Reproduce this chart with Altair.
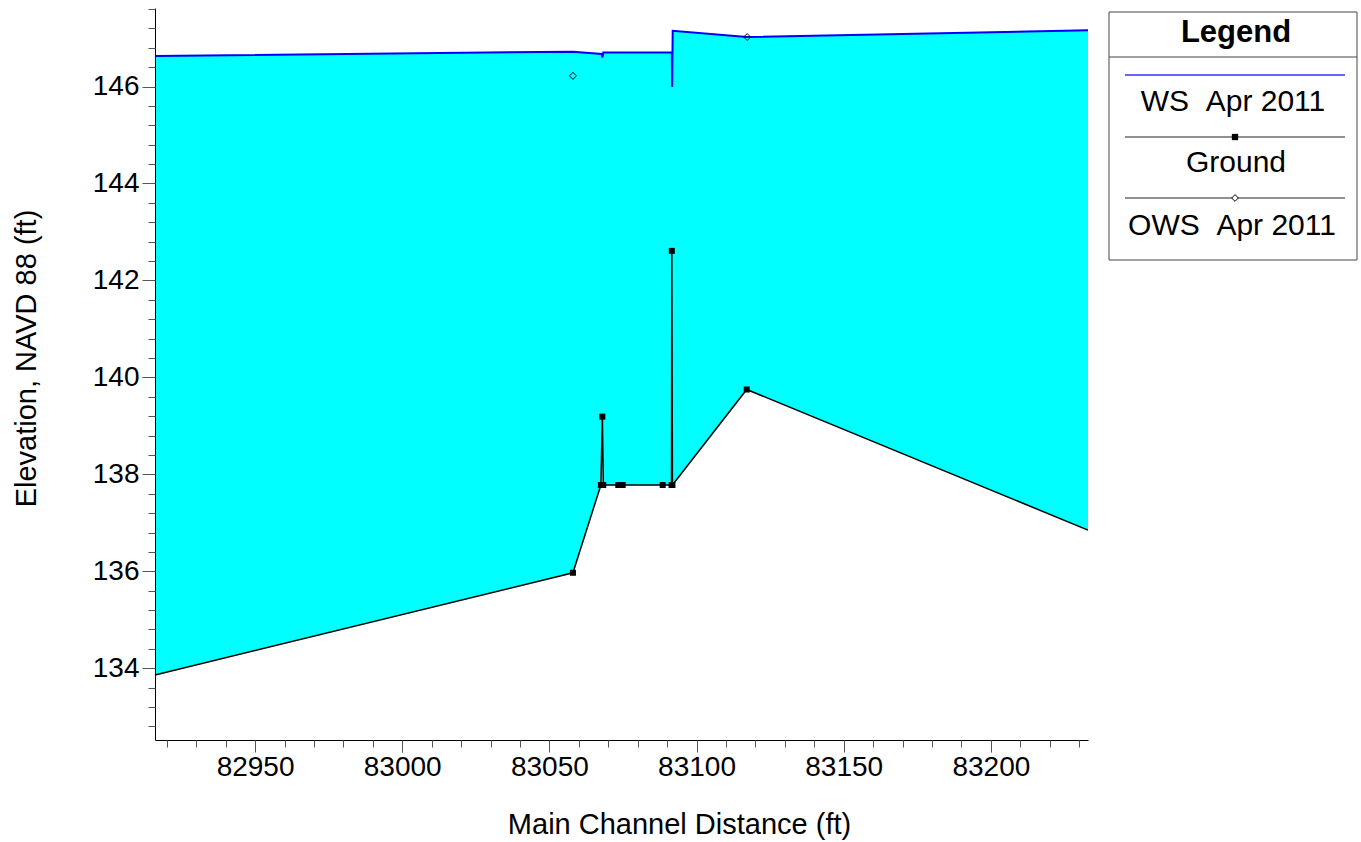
import altair as alt
import numpy as np
import pandas as pd

# Ground profile along the main channel (station ft, elevation ft)
ground_x = [82916.0, 83058.0, 83067.5, 83068.0, 83068.3, 83073.4, 83074.9,
            83088.5, 83091.5, 83091.6, 83091.8, 83117.05, 83233.0]
ground_y = [133.86, 135.97, 137.78, 139.19, 137.78, 137.78, 137.78,
            137.78, 137.78, 142.61, 137.78, 139.75, 136.85]

# Computed water surface, April 2011
ws_x = [82916.0, 83058.0, 83067.8, 83068.0, 83068.3, 83091.6, 83091.7,
        83091.9, 83117.05, 83233.0]
ws_y = [146.63, 146.72, 146.67, 146.60, 146.70, 146.70, 145.99,
        147.15, 147.02, 147.16]

# Observed water surface, April 2011
ows_x = [83058.0, 83117.2]
ows_y = [146.22, 147.02]

# Axis ticks
x_domain = [82916, 83233]
y_domain = [132.52, 147.62]
x_major = [82950, 83000, 83050, 83100, 83150, 83200]
x_minor = list(range(82920, 83240, 10))
y_major = [134, 136, 138, 140, 142, 144, 146]
y_minor = [round(v, 1) for v in np.arange(132.8, 147.7, 0.4)]

legend_labels = ["WS\u00a0\u00a0Apr 2011", "Ground", "OWS\u00a0\u00a0Apr 2011"]

FONT = "Liberation Sans"
W, H = 933, 732

ground = pd.DataFrame({"x": ground_x, "y": ground_y, "i": range(len(ground_x))})
ws = pd.DataFrame({"x": ws_x, "y": ws_y, "i": range(len(ws_x))})
ows = pd.DataFrame({"x": ows_x, "y": ows_y})

xs = alt.Scale(domain=x_domain, nice=False, zero=False)
ys = alt.Scale(domain=y_domain, nice=False, zero=False)

axis_common = dict(grid=False, zindex=1, tickColor="#555555", tickWidth=1,
                   domainColor="black", domainWidth=1, labelFont=FONT,
                   labelColor="black", labelFontSize=28, titleFont=FONT,
                   titleColor="black", titleFontSize=29,
                   titleFontWeight="normal", labelOverlap=False,
                   labelFlush=False, labelBound=False)

x_major_axis = alt.Axis(orient="bottom", values=x_major, format="d",
                        tickSize=12, labelPadding=1,
                        title="Main Channel Distance (ft)", titleX=524,
                        titleY=93, titleBaseline="alphabetic",
                        titleAlign="center", **axis_common)
y_major_axis = alt.Axis(orient="left", values=y_major, format="d",
                        tickSize=13, labelPadding=3,
                        title="Elevation, NAVD 88 (ft)", titleX=-120,
                        titleY=350, titleAngle=270,
                        titleBaseline="alphabetic", titleAlign="center",
                        **axis_common)
x_minor_axis = alt.Axis(orient="bottom", values=x_minor, labels=False,
                        domain=False, tickSize=7, title=None, grid=False,
                        tickColor="#555555", zindex=1)
y_minor_axis = alt.Axis(orient="left", values=y_minor, labels=False,
                        domain=False, tickSize=7, title=None, grid=False,
                        tickColor="#555555", zindex=1)

# Water body: cyan from the water surface down, white below the ground
ws_fill = alt.Chart(ws).mark_area(color="#00FFFF", opacity=1).encode(
    x=alt.X("x:Q", scale=xs, axis=x_major_axis),
    y=alt.Y("y:Q", scale=ys, axis=y_major_axis),
    y2=alt.value(H),
)
ground_fill = alt.Chart(ground).mark_area(color="white", opacity=1).encode(
    x=alt.X("x:Q", scale=xs, axis=None),
    y=alt.Y("y:Q", scale=ys, axis=None),
    y2=alt.value(H),
)
minor_ticks = alt.Chart(ws).mark_point(opacity=0).encode(
    x=alt.X("x:Q", scale=xs, axis=x_minor_axis),
    y=alt.Y("y:Q", scale=ys, axis=y_minor_axis),
)
ws_line = alt.Chart(ws).mark_line(color="#0000FF", strokeWidth=2).encode(
    x=alt.X("x:Q", scale=xs, axis=None),
    y=alt.Y("y:Q", scale=ys, axis=None),
    order="i:Q",
)
ground_line = alt.Chart(ground).mark_line(color="black", strokeWidth=1.5).encode(
    x=alt.X("x:Q", scale=xs, axis=None),
    y=alt.Y("y:Q", scale=ys, axis=None),
    order="i:Q",
)
ground_pts = alt.Chart(ground).transform_filter(
    (alt.datum.x > x_domain[0]) & (alt.datum.x < x_domain[1])
).mark_point(shape="square", filled=True, color="black", size=36, opacity=1).encode(
    x=alt.X("x:Q", scale=xs, axis=None),
    y=alt.Y("y:Q", scale=ys, axis=None),
)
ows_pts = alt.Chart(ows).mark_point(shape="diamond", filled=False, color="black",
                                    size=49, strokeWidth=1, opacity=1).encode(
    x=alt.X("x:Q", scale=xs, axis=None),
    y=alt.Y("y:Q", scale=ys, axis=None),
)

# Legend box to the right of the plot
one = pd.DataFrame({"k": [0]})
LX0, LX1 = 954, 1202
leg_box = alt.Chart(one).mark_rect(fill="white", stroke="#444444", strokeWidth=1).encode(
    x=alt.value(LX0), x2=alt.value(LX1), y=alt.value(4), y2=alt.value(252))
leg_sep = alt.Chart(one).mark_rule(color="#444444", strokeWidth=1).encode(
    x=alt.value(LX0), x2=alt.value(LX1), y=alt.value(49))
leg_title = alt.Chart(one).mark_text(font=FONT, fontSize=31, fontWeight="bold",
                                     color="black", align="center",
                                     baseline="alphabetic").encode(
    x=alt.value(1081), y=alt.value(34), text=alt.value("Legend"))
leg_ws_line = alt.Chart(one).mark_rule(color="#3333FF", strokeWidth=1.6).encode(
    x=alt.value(970), x2=alt.value(1190), y=alt.value(67))
leg_gr_line = alt.Chart(one).mark_rule(color="#222222", strokeWidth=1.2).encode(
    x=alt.value(970), x2=alt.value(1190), y=alt.value(129))
leg_gr_pt = alt.Chart(one).mark_point(shape="square", filled=True, color="black",
                                      size=40, opacity=1).encode(
    x=alt.value(1080), y=alt.value(129))
leg_ows_line = alt.Chart(one).mark_rule(color="#222222", strokeWidth=1.2).encode(
    x=alt.value(970), x2=alt.value(1190), y=alt.value(190))
leg_ows_pt = alt.Chart(one).mark_point(shape="diamond", filled=True, fill="white",
                                       stroke="black", strokeWidth=1, size=45,
                                       opacity=1).encode(
    x=alt.value(1080), y=alt.value(190))

leg_texts = []
for label, ty, tx in zip(legend_labels, [103, 164, 227], [1078, 1081, 1077]):
    leg_texts.append(
        alt.Chart(one).mark_text(font=FONT, fontSize=30, color="black",
                                 align="center", baseline="alphabetic").encode(
            x=alt.value(tx), y=alt.value(ty), text=alt.value(label))
    )

chart = alt.layer(
    ws_fill, ground_fill, minor_ticks, ws_line, ground_line, ground_pts, ows_pts,
    leg_box, leg_sep, leg_title, leg_ws_line, leg_gr_line, leg_gr_pt,
    leg_ows_line, leg_ows_pt, *leg_texts,
).resolve_axis(
    x="independent", y="independent"
).properties(
    width=W, height=H,
    autosize=alt.AutoSizeParams(type="none"),
    padding={"left": 155, "top": 8, "right": 273, "bottom": 102},
    background="white",
).configure_view(strokeWidth=0)

chart.save("out.html", embed_options={"renderer": "svg", "actions": False})
